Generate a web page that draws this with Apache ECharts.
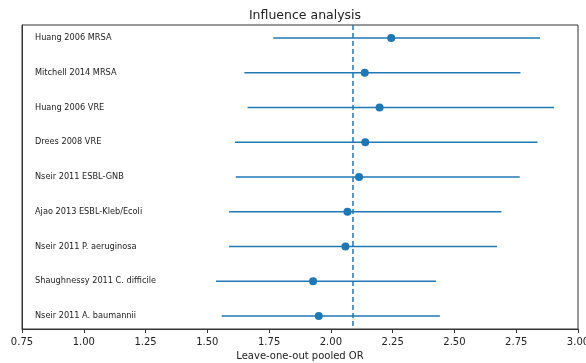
<!DOCTYPE html>
<html>
<head>
<meta charset="utf-8">
<script src="https://cdn.jsdelivr.net/npm/echarts@6/dist/echarts.min.js"></script>
<style>
  html, body { margin: 0; padding: 0; background: #fff; }
  #main { width: 586px; height: 363px; }
</style>
</head>
<body>
<div id="main"></div>
<script>
// studies, top to bottom
const studies = [
  'Huang 2006 MRSA',
  'Mitchell 2014 MRSA',
  'Huang 2006 VRE',
  'Drees 2008 VRE',
  'Nseir 2011 ESBL-GNB',
  'Ajao 2013 ESBL-Kleb/Ecoli',
  'Nseir 2011 P. aeruginosa',
  'Shaughnessy 2011 C. difficile',
  'Nseir 2011 A. baumannii'
];
// leave-one-out pooled OR and its CI
const pooledOR = [2.244, 2.137, 2.197, 2.139, 2.114, 2.067, 2.059, 1.928, 1.951];
const ciLow = [1.767, 1.650, 1.663, 1.612, 1.615, 1.588, 1.588, 1.535, 1.558];
const ciHigh = [2.846, 2.767, 2.903, 2.836, 2.764, 2.690, 2.672, 2.425, 2.441];
// overall pooled OR (dashed reference line)
const overallOR = 2.09;

const blue = '#1f77b4';
const font = 'DejaVu Sans';

const chart = echarts.init(document.getElementById('main'));

const barData = studies.map((s, i) => [ciLow[i], ciHigh[i], i]);
const pointData = studies.map((s, i) => [pooledOR[i], i]);

const option = {
  animation: false,
  title: {
    text: 'Influence analysis',
    left: 300,
    textAlign: 'center',
    top: 4,
    textStyle: { fontFamily: font, fontSize: 12.5, fontWeight: 'normal', color: '#222' }
  },
  grid: {
    left: 22, right: 8, top: 25, bottom: 34,
    outerBoundsMode: 'none',
    containLabel: false,
    show: true, borderColor: '#333', borderWidth: 1
  },
  xAxis: {
    type: 'value',
    position: 'bottom',
    min: 0.75, max: 3.0, interval: 0.25,
    name: 'Leave-one-out pooled OR',
    nameLocation: 'middle',
    nameGap: 22,
    nameTextStyle: { fontFamily: font, fontSize: 10, color: '#222' },
    axisLine: { show: true, onZero: false, lineStyle: { color: '#333' } },
    axisTick: { show: true, length: 4, lineStyle: { color: '#333' } },
    axisLabel: {
      fontFamily: font, fontSize: 10, color: '#222', margin: 8,
      formatter: v => v.toFixed(2)
    },
    splitLine: { show: false }
  },
  yAxis: {
    type: 'value',
    min: -0.375, max: 8.375,
    inverse: true,
    axisLine: { show: true, onZero: false, lineStyle: { color: '#333' } },
    axisTick: { show: false },
    splitLine: { show: false },
    axisLabel: {
      inside: true,
      margin: 13,
      customValues: studies.map((s, i) => i),
      formatter: v => studies[Math.round(v)] || '',
      fontFamily: font, fontSize: 8.2, color: '#222'
    }
  },
  series: [
    {
      type: 'custom',
      data: barData,
      renderItem: (params, api) => {
        const a = api.coord([api.value(0), api.value(2)]);
        const b = api.coord([api.value(1), api.value(2)]);
        return {
          type: 'line',
          shape: { x1: a[0], y1: a[1], x2: b[0], y2: b[1] },
          style: { stroke: blue, lineWidth: 1.5 }
        };
      },
      encode: { x: [0, 1], y: 2 },
      z: 2
    },
    {
      type: 'scatter',
      data: pointData,
      symbol: 'circle',
      symbolSize: 8,
      itemStyle: { color: blue, opacity: 1 },
      z: 3,
      markLine: {
        silent: true,
        symbol: 'none',
        label: { show: false },
        lineStyle: { color: blue, type: [5, 3], width: 1.5 },
        data: [{ xAxis: overallOR }]
      }
    }
  ]
};

chart.setOption(option);
</script>
</body>
</html>
